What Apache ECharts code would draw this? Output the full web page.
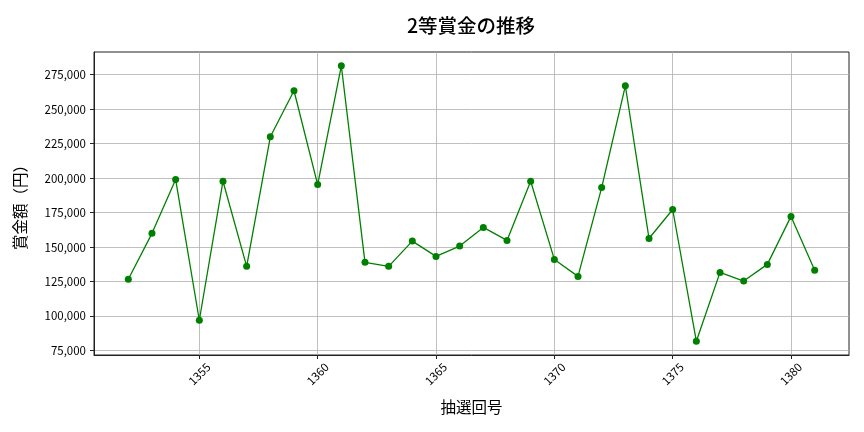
<!DOCTYPE html>
<html>
<head>
<meta charset="utf-8">
<script src="https://cdn.jsdelivr.net/npm/echarts@6/dist/echarts.min.js"></script>
<style>
  html, body { margin: 0; padding: 0; background: #fff; }
  #chart { width: 864px; height: 432px; }
</style>
</head>
<body>
<div id="chart"></div>
<script>
// 抽選回号
var rounds = [1352, 1353, 1354, 1355, 1356, 1357, 1358, 1359, 1360, 1361,
  1362, 1363, 1364, 1365, 1366, 1367, 1368, 1369, 1370, 1371,
  1372, 1373, 1374, 1375, 1376, 1377, 1378, 1379, 1380, 1381];
// 2等賞金（円）
var prizes = [126700, 160000, 199000, 97000, 197800, 136100, 230000, 263400, 195400, 281500,
  139000, 136100, 154400, 143300, 150800, 164300, 154900, 197800, 141100, 128800,
  193200, 267000, 156300, 177300, 81800, 131700, 125400, 137500, 172300, 133200];
var yTicks = [75000, 100000, 125000, 150000, 175000, 200000, 225000, 250000, 275000];
var xTicks = [1355, 1360, 1365, 1370, 1375, 1380];

var FONT = '"Noto Sans CJK JP", "DejaVu Sans", sans-serif';

// matplotlib 風の 5% 余白
var xr = rounds[rounds.length - 1] - rounds[0];
var xMin = rounds[0] - xr * 0.05, xMax = rounds[rounds.length - 1] + xr * 0.05;
var yLo = Math.min.apply(null, prizes), yHi = Math.max.apply(null, prizes);
var yMin = yLo - (yHi - yLo) * 0.05, yMax = yHi + (yHi - yLo) * 0.05;

var chartDom = document.getElementById('chart');
var myChart = echarts.init(chartDom, null, { renderer: 'canvas' });
var option;

option = {
  animation: false,
  title: {
    text: '2等賞金の推移',
    left: 466,
    textAlign: 'center',
    top: 11,
    textStyle: { fontFamily: FONT, fontSize: 19.5, fontWeight: 500, color: '#000' }
  },
  grid: {
    left: 94, right: 15, top: 52, bottom: 77,
    show: true, borderColor: '#222', borderWidth: 1
  },
  xAxis: {
    type: 'value',
    min: xMin, max: xMax,
    name: '抽選回号',
    nameLocation: 'middle',
    nameGap: 44,
    nameTextStyle: { fontFamily: FONT, fontSize: 15.5, color: '#000' },
    axisLine: { show: true, onZero: false, lineStyle: { color: '#222' } },
    axisTick: { show: true, length: 4, customValues: xTicks, lineStyle: { color: '#222' } },
    axisLabel: {
      rotate: 45, customValues: xTicks, margin: 19,
      align: 'center', verticalAlign: 'middle',
      fontFamily: FONT, fontSize: 11.5, color: '#000',
      formatter: function (v) { return String(v); }
    },
    splitLine: { show: true, lineStyle: { color: '#b0b0b0', width: 0.8 } }
  },
  yAxis: {
    type: 'value',
    min: yMin, max: yMax,
    name: '賞金額（円）',
    nameLocation: 'middle',
    nameGap: 66,
    nameTextStyle: { fontFamily: FONT, fontSize: 15.5, color: '#000' },
    axisLine: { show: true, lineStyle: { color: '#222' } },
    axisTick: { show: true, length: 4, customValues: yTicks, lineStyle: { color: '#222' } },
    axisLabel: {
      customValues: yTicks,
      margin: 8,
      fontFamily: FONT, fontSize: 11.5, color: '#000',
      formatter: function (v) { return v.toLocaleString('en-US'); }
    },
    splitLine: { show: true, lineStyle: { color: '#b0b0b0', width: 0.8 } }
  },
  series: [
    {
      type: 'line',
      data: rounds.map(function (r, i) { return [r, prizes[i]]; }),
      symbol: 'circle',
      symbolSize: 7,
      itemStyle: { color: '#008000' },
      lineStyle: { color: '#008000', width: 1.3 }
    }
  ]
};

option && myChart.setOption(option);
</script>
</body>
</html>
